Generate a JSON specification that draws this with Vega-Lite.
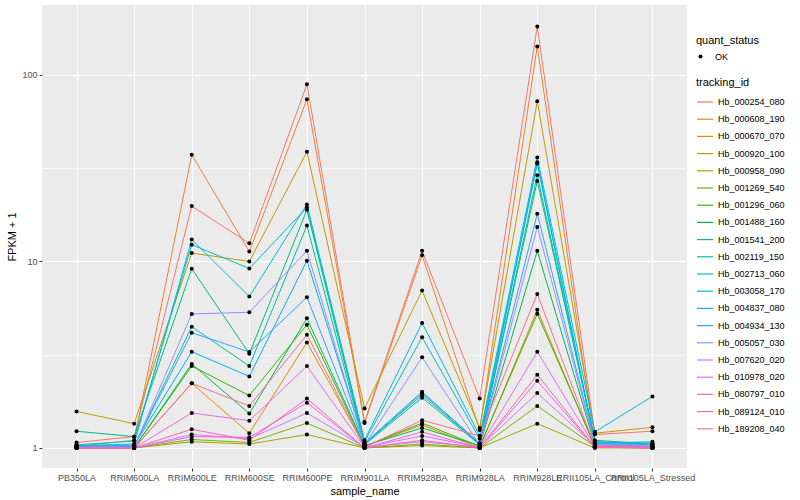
{
  "$schema": "https://vega.github.io/schema/vega-lite/v6.json",
  "width": 645,
  "height": 463,
  "padding": {"left": 6, "top": 5, "right": 5, "bottom": 5},
  "background": "white",
  "config": {
    "font": "Liberation Sans",
    "view": {"fill": "#EBEBEB", "stroke": null},
    "axis": {
      "domain": false,
      "gridColor": "#FFFFFF",
      "labelFont": "Liberation Sans",
      "labelFontSize": 9,
      "labelColor": "#4D4D4D",
      "tickColor": "#333333",
      "tickSize": 3,
      "labelPadding": 2,
      "titleFont": "Liberation Sans",
      "titleFontSize": 11,
      "titleFontWeight": "normal",
      "titleColor": "#000000"
    },
    "legend": {
      "titleFont": "Liberation Sans",
      "titleFontSize": 11,
      "titleFontWeight": "normal",
      "titleColor": "#000000",
      "labelFont": "Liberation Sans",
      "labelFontSize": 9,
      "labelColor": "#000000"
    }
  },
  "data": {"name": "fpkm"},
  "datasets": {
    "fpkm": [
      {"tracking_id": "Hb_000254_080", "sample_name": "PB350LA", "FPKM": 1.07, "quant_status": "OK"},
      {"tracking_id": "Hb_000254_080", "sample_name": "RRIM600LA", "FPKM": 1.15, "quant_status": "OK"},
      {"tracking_id": "Hb_000254_080", "sample_name": "RRIM600LE", "FPKM": 19.8, "quant_status": "OK"},
      {"tracking_id": "Hb_000254_080", "sample_name": "RRIM600SE", "FPKM": 12.5, "quant_status": "OK"},
      {"tracking_id": "Hb_000254_080", "sample_name": "RRIM600PE", "FPKM": 89, "quant_status": "OK"},
      {"tracking_id": "Hb_000254_080", "sample_name": "RRIM901LA", "FPKM": 1.38, "quant_status": "OK"},
      {"tracking_id": "Hb_000254_080", "sample_name": "RRIM928BA", "FPKM": 11.4, "quant_status": "OK"},
      {"tracking_id": "Hb_000254_080", "sample_name": "RRIM928LA", "FPKM": 1.84, "quant_status": "OK"},
      {"tracking_id": "Hb_000254_080", "sample_name": "RRIM928LE", "FPKM": 182, "quant_status": "OK"},
      {"tracking_id": "Hb_000254_080", "sample_name": "RRII105LA_Control", "FPKM": 1.18, "quant_status": "OK"},
      {"tracking_id": "Hb_000254_080", "sample_name": "RRII105LA_Stressed", "FPKM": 1.23, "quant_status": "OK"},

      {"tracking_id": "Hb_000608_190", "sample_name": "PB350LA", "FPKM": 1.02, "quant_status": "OK"},
      {"tracking_id": "Hb_000608_190", "sample_name": "RRIM600LA", "FPKM": 1.10, "quant_status": "OK"},
      {"tracking_id": "Hb_000608_190", "sample_name": "RRIM600LE", "FPKM": 37.3, "quant_status": "OK"},
      {"tracking_id": "Hb_000608_190", "sample_name": "RRIM600SE", "FPKM": 11.3, "quant_status": "OK"},
      {"tracking_id": "Hb_000608_190", "sample_name": "RRIM600PE", "FPKM": 74, "quant_status": "OK"},
      {"tracking_id": "Hb_000608_190", "sample_name": "RRIM901LA", "FPKM": 1.36, "quant_status": "OK"},
      {"tracking_id": "Hb_000608_190", "sample_name": "RRIM928BA", "FPKM": 10.8, "quant_status": "OK"},
      {"tracking_id": "Hb_000608_190", "sample_name": "RRIM928LA", "FPKM": 1.25, "quant_status": "OK"},
      {"tracking_id": "Hb_000608_190", "sample_name": "RRIM928LE", "FPKM": 142, "quant_status": "OK"},
      {"tracking_id": "Hb_000608_190", "sample_name": "RRII105LA_Control", "FPKM": 1.05, "quant_status": "OK"},
      {"tracking_id": "Hb_000608_190", "sample_name": "RRII105LA_Stressed", "FPKM": 1.03, "quant_status": "OK"},

      {"tracking_id": "Hb_000670_070", "sample_name": "PB350LA", "FPKM": 1.00, "quant_status": "OK"},
      {"tracking_id": "Hb_000670_070", "sample_name": "RRIM600LA", "FPKM": 1.00, "quant_status": "OK"},
      {"tracking_id": "Hb_000670_070", "sample_name": "RRIM600LE", "FPKM": 2.22, "quant_status": "OK"},
      {"tracking_id": "Hb_000670_070", "sample_name": "RRIM600SE", "FPKM": 1.20, "quant_status": "OK"},
      {"tracking_id": "Hb_000670_070", "sample_name": "RRIM600PE", "FPKM": 3.68, "quant_status": "OK"},
      {"tracking_id": "Hb_000670_070", "sample_name": "RRIM901LA", "FPKM": 1.02, "quant_status": "OK"},
      {"tracking_id": "Hb_000670_070", "sample_name": "RRIM928BA", "FPKM": 1.33, "quant_status": "OK"},
      {"tracking_id": "Hb_000670_070", "sample_name": "RRIM928LA", "FPKM": 1.00, "quant_status": "OK"},
      {"tracking_id": "Hb_000670_070", "sample_name": "RRIM928LE", "FPKM": 5.50, "quant_status": "OK"},
      {"tracking_id": "Hb_000670_070", "sample_name": "RRII105LA_Control", "FPKM": 1.01, "quant_status": "OK"},
      {"tracking_id": "Hb_000670_070", "sample_name": "RRII105LA_Stressed", "FPKM": 1.00, "quant_status": "OK"},

      {"tracking_id": "Hb_000920_100", "sample_name": "PB350LA", "FPKM": 1.57, "quant_status": "OK"},
      {"tracking_id": "Hb_000920_100", "sample_name": "RRIM600LA", "FPKM": 1.35, "quant_status": "OK"},
      {"tracking_id": "Hb_000920_100", "sample_name": "RRIM600LE", "FPKM": 11.1, "quant_status": "OK"},
      {"tracking_id": "Hb_000920_100", "sample_name": "RRIM600SE", "FPKM": 10.0, "quant_status": "OK"},
      {"tracking_id": "Hb_000920_100", "sample_name": "RRIM600PE", "FPKM": 38.7, "quant_status": "OK"},
      {"tracking_id": "Hb_000920_100", "sample_name": "RRIM901LA", "FPKM": 1.63, "quant_status": "OK"},
      {"tracking_id": "Hb_000920_100", "sample_name": "RRIM928BA", "FPKM": 6.98, "quant_status": "OK"},
      {"tracking_id": "Hb_000920_100", "sample_name": "RRIM928LA", "FPKM": 1.28, "quant_status": "OK"},
      {"tracking_id": "Hb_000920_100", "sample_name": "RRIM928LE", "FPKM": 72.2, "quant_status": "OK"},
      {"tracking_id": "Hb_000920_100", "sample_name": "RRII105LA_Control", "FPKM": 1.20, "quant_status": "OK"},
      {"tracking_id": "Hb_000920_100", "sample_name": "RRII105LA_Stressed", "FPKM": 1.29, "quant_status": "OK"},

      {"tracking_id": "Hb_000958_090", "sample_name": "PB350LA", "FPKM": 1.00, "quant_status": "OK"},
      {"tracking_id": "Hb_000958_090", "sample_name": "RRIM600LA", "FPKM": 1.00, "quant_status": "OK"},
      {"tracking_id": "Hb_000958_090", "sample_name": "RRIM600LE", "FPKM": 1.08, "quant_status": "OK"},
      {"tracking_id": "Hb_000958_090", "sample_name": "RRIM600SE", "FPKM": 1.05, "quant_status": "OK"},
      {"tracking_id": "Hb_000958_090", "sample_name": "RRIM600PE", "FPKM": 1.18, "quant_status": "OK"},
      {"tracking_id": "Hb_000958_090", "sample_name": "RRIM901LA", "FPKM": 1.00, "quant_status": "OK"},
      {"tracking_id": "Hb_000958_090", "sample_name": "RRIM928BA", "FPKM": 1.03, "quant_status": "OK"},
      {"tracking_id": "Hb_000958_090", "sample_name": "RRIM928LA", "FPKM": 1.00, "quant_status": "OK"},
      {"tracking_id": "Hb_000958_090", "sample_name": "RRIM928LE", "FPKM": 1.35, "quant_status": "OK"},
      {"tracking_id": "Hb_000958_090", "sample_name": "RRII105LA_Control", "FPKM": 1.00, "quant_status": "OK"},
      {"tracking_id": "Hb_000958_090", "sample_name": "RRII105LA_Stressed", "FPKM": 1.00, "quant_status": "OK"},

      {"tracking_id": "Hb_001269_540", "sample_name": "PB350LA", "FPKM": 1.00, "quant_status": "OK"},
      {"tracking_id": "Hb_001269_540", "sample_name": "RRIM600LA", "FPKM": 1.00, "quant_status": "OK"},
      {"tracking_id": "Hb_001269_540", "sample_name": "RRIM600LE", "FPKM": 1.11, "quant_status": "OK"},
      {"tracking_id": "Hb_001269_540", "sample_name": "RRIM600SE", "FPKM": 1.07, "quant_status": "OK"},
      {"tracking_id": "Hb_001269_540", "sample_name": "RRIM600PE", "FPKM": 1.36, "quant_status": "OK"},
      {"tracking_id": "Hb_001269_540", "sample_name": "RRIM901LA", "FPKM": 1.00, "quant_status": "OK"},
      {"tracking_id": "Hb_001269_540", "sample_name": "RRIM928BA", "FPKM": 1.05, "quant_status": "OK"},
      {"tracking_id": "Hb_001269_540", "sample_name": "RRIM928LA", "FPKM": 1.00, "quant_status": "OK"},
      {"tracking_id": "Hb_001269_540", "sample_name": "RRIM928LE", "FPKM": 1.68, "quant_status": "OK"},
      {"tracking_id": "Hb_001269_540", "sample_name": "RRII105LA_Control", "FPKM": 1.02, "quant_status": "OK"},
      {"tracking_id": "Hb_001269_540", "sample_name": "RRII105LA_Stressed", "FPKM": 1.00, "quant_status": "OK"},

      {"tracking_id": "Hb_001296_060", "sample_name": "PB350LA", "FPKM": 1.01, "quant_status": "OK"},
      {"tracking_id": "Hb_001296_060", "sample_name": "RRIM600LA", "FPKM": 1.00, "quant_status": "OK"},
      {"tracking_id": "Hb_001296_060", "sample_name": "RRIM600LE", "FPKM": 2.75, "quant_status": "OK"},
      {"tracking_id": "Hb_001296_060", "sample_name": "RRIM600SE", "FPKM": 1.91, "quant_status": "OK"},
      {"tracking_id": "Hb_001296_060", "sample_name": "RRIM600PE", "FPKM": 4.58, "quant_status": "OK"},
      {"tracking_id": "Hb_001296_060", "sample_name": "RRIM901LA", "FPKM": 1.02, "quant_status": "OK"},
      {"tracking_id": "Hb_001296_060", "sample_name": "RRIM928BA", "FPKM": 1.36, "quant_status": "OK"},
      {"tracking_id": "Hb_001296_060", "sample_name": "RRIM928LA", "FPKM": 1.02, "quant_status": "OK"},
      {"tracking_id": "Hb_001296_060", "sample_name": "RRIM928LE", "FPKM": 5.24, "quant_status": "OK"},
      {"tracking_id": "Hb_001296_060", "sample_name": "RRII105LA_Control", "FPKM": 1.03, "quant_status": "OK"},
      {"tracking_id": "Hb_001296_060", "sample_name": "RRII105LA_Stressed", "FPKM": 1.01, "quant_status": "OK"},

      {"tracking_id": "Hb_001488_160", "sample_name": "PB350LA", "FPKM": 1.01, "quant_status": "OK"},
      {"tracking_id": "Hb_001488_160", "sample_name": "RRIM600LA", "FPKM": 1.00, "quant_status": "OK"},
      {"tracking_id": "Hb_001488_160", "sample_name": "RRIM600LE", "FPKM": 2.82, "quant_status": "OK"},
      {"tracking_id": "Hb_001488_160", "sample_name": "RRIM600SE", "FPKM": 1.53, "quant_status": "OK"},
      {"tracking_id": "Hb_001488_160", "sample_name": "RRIM600PE", "FPKM": 4.96, "quant_status": "OK"},
      {"tracking_id": "Hb_001488_160", "sample_name": "RRIM901LA", "FPKM": 1.03, "quant_status": "OK"},
      {"tracking_id": "Hb_001488_160", "sample_name": "RRIM928BA", "FPKM": 1.28, "quant_status": "OK"},
      {"tracking_id": "Hb_001488_160", "sample_name": "RRIM928LA", "FPKM": 1.03, "quant_status": "OK"},
      {"tracking_id": "Hb_001488_160", "sample_name": "RRIM928LE", "FPKM": 11.4, "quant_status": "OK"},
      {"tracking_id": "Hb_001488_160", "sample_name": "RRII105LA_Control", "FPKM": 1.04, "quant_status": "OK"},
      {"tracking_id": "Hb_001488_160", "sample_name": "RRII105LA_Stressed", "FPKM": 1.02, "quant_status": "OK"},

      {"tracking_id": "Hb_001541_200", "sample_name": "PB350LA", "FPKM": 1.23, "quant_status": "OK"},
      {"tracking_id": "Hb_001541_200", "sample_name": "RRIM600LA", "FPKM": 1.15, "quant_status": "OK"},
      {"tracking_id": "Hb_001541_200", "sample_name": "RRIM600LE", "FPKM": 9.14, "quant_status": "OK"},
      {"tracking_id": "Hb_001541_200", "sample_name": "RRIM600SE", "FPKM": 3.20, "quant_status": "OK"},
      {"tracking_id": "Hb_001541_200", "sample_name": "RRIM600PE", "FPKM": 18.9, "quant_status": "OK"},
      {"tracking_id": "Hb_001541_200", "sample_name": "RRIM901LA", "FPKM": 1.05, "quant_status": "OK"},
      {"tracking_id": "Hb_001541_200", "sample_name": "RRIM928BA", "FPKM": 1.92, "quant_status": "OK"},
      {"tracking_id": "Hb_001541_200", "sample_name": "RRIM928LA", "FPKM": 1.05, "quant_status": "OK"},
      {"tracking_id": "Hb_001541_200", "sample_name": "RRIM928LE", "FPKM": 27.0, "quant_status": "OK"},
      {"tracking_id": "Hb_001541_200", "sample_name": "RRII105LA_Control", "FPKM": 1.10, "quant_status": "OK"},
      {"tracking_id": "Hb_001541_200", "sample_name": "RRII105LA_Stressed", "FPKM": 1.05, "quant_status": "OK"},

      {"tracking_id": "Hb_002119_150", "sample_name": "PB350LA", "FPKM": 1.03, "quant_status": "OK"},
      {"tracking_id": "Hb_002119_150", "sample_name": "RRIM600LA", "FPKM": 1.02, "quant_status": "OK"},
      {"tracking_id": "Hb_002119_150", "sample_name": "RRIM600LE", "FPKM": 4.47, "quant_status": "OK"},
      {"tracking_id": "Hb_002119_150", "sample_name": "RRIM600SE", "FPKM": 2.75, "quant_status": "OK"},
      {"tracking_id": "Hb_002119_150", "sample_name": "RRIM600PE", "FPKM": 15.6, "quant_status": "OK"},
      {"tracking_id": "Hb_002119_150", "sample_name": "RRIM901LA", "FPKM": 1.04, "quant_status": "OK"},
      {"tracking_id": "Hb_002119_150", "sample_name": "RRIM928BA", "FPKM": 1.86, "quant_status": "OK"},
      {"tracking_id": "Hb_002119_150", "sample_name": "RRIM928LA", "FPKM": 1.04, "quant_status": "OK"},
      {"tracking_id": "Hb_002119_150", "sample_name": "RRIM928LE", "FPKM": 29.0, "quant_status": "OK"},
      {"tracking_id": "Hb_002119_150", "sample_name": "RRII105LA_Control", "FPKM": 1.08, "quant_status": "OK"},
      {"tracking_id": "Hb_002119_150", "sample_name": "RRII105LA_Stressed", "FPKM": 1.06, "quant_status": "OK"},

      {"tracking_id": "Hb_002713_060", "sample_name": "PB350LA", "FPKM": 1.04, "quant_status": "OK"},
      {"tracking_id": "Hb_002713_060", "sample_name": "RRIM600LA", "FPKM": 1.09, "quant_status": "OK"},
      {"tracking_id": "Hb_002713_060", "sample_name": "RRIM600LE", "FPKM": 12.3, "quant_status": "OK"},
      {"tracking_id": "Hb_002713_060", "sample_name": "RRIM600SE", "FPKM": 9.17, "quant_status": "OK"},
      {"tracking_id": "Hb_002713_060", "sample_name": "RRIM600PE", "FPKM": 19.5, "quant_status": "OK"},
      {"tracking_id": "Hb_002713_060", "sample_name": "RRIM901LA", "FPKM": 1.08, "quant_status": "OK"},
      {"tracking_id": "Hb_002713_060", "sample_name": "RRIM928BA", "FPKM": 3.92, "quant_status": "OK"},
      {"tracking_id": "Hb_002713_060", "sample_name": "RRIM928LA", "FPKM": 1.12, "quant_status": "OK"},
      {"tracking_id": "Hb_002713_060", "sample_name": "RRIM928LE", "FPKM": 33.5, "quant_status": "OK"},
      {"tracking_id": "Hb_002713_060", "sample_name": "RRII105LA_Control", "FPKM": 1.06, "quant_status": "OK"},
      {"tracking_id": "Hb_002713_060", "sample_name": "RRII105LA_Stressed", "FPKM": 1.08, "quant_status": "OK"},

      {"tracking_id": "Hb_003058_170", "sample_name": "PB350LA", "FPKM": 1.03, "quant_status": "OK"},
      {"tracking_id": "Hb_003058_170", "sample_name": "RRIM600LA", "FPKM": 1.05, "quant_status": "OK"},
      {"tracking_id": "Hb_003058_170", "sample_name": "RRIM600LE", "FPKM": 13.1, "quant_status": "OK"},
      {"tracking_id": "Hb_003058_170", "sample_name": "RRIM600SE", "FPKM": 6.48, "quant_status": "OK"},
      {"tracking_id": "Hb_003058_170", "sample_name": "RRIM600PE", "FPKM": 20.2, "quant_status": "OK"},
      {"tracking_id": "Hb_003058_170", "sample_name": "RRIM901LA", "FPKM": 1.10, "quant_status": "OK"},
      {"tracking_id": "Hb_003058_170", "sample_name": "RRIM928BA", "FPKM": 4.68, "quant_status": "OK"},
      {"tracking_id": "Hb_003058_170", "sample_name": "RRIM928LA", "FPKM": 1.16, "quant_status": "OK"},
      {"tracking_id": "Hb_003058_170", "sample_name": "RRIM928LE", "FPKM": 36.1, "quant_status": "OK"},
      {"tracking_id": "Hb_003058_170", "sample_name": "RRII105LA_Control", "FPKM": 1.22, "quant_status": "OK"},
      {"tracking_id": "Hb_003058_170", "sample_name": "RRII105LA_Stressed", "FPKM": 1.89, "quant_status": "OK"},

      {"tracking_id": "Hb_004837_080", "sample_name": "PB350LA", "FPKM": 1.02, "quant_status": "OK"},
      {"tracking_id": "Hb_004837_080", "sample_name": "RRIM600LA", "FPKM": 1.03, "quant_status": "OK"},
      {"tracking_id": "Hb_004837_080", "sample_name": "RRIM600LE", "FPKM": 3.28, "quant_status": "OK"},
      {"tracking_id": "Hb_004837_080", "sample_name": "RRIM600SE", "FPKM": 2.42, "quant_status": "OK"},
      {"tracking_id": "Hb_004837_080", "sample_name": "RRIM600PE", "FPKM": 10.1, "quant_status": "OK"},
      {"tracking_id": "Hb_004837_080", "sample_name": "RRIM901LA", "FPKM": 1.06, "quant_status": "OK"},
      {"tracking_id": "Hb_004837_080", "sample_name": "RRIM928BA", "FPKM": 2.00, "quant_status": "OK"},
      {"tracking_id": "Hb_004837_080", "sample_name": "RRIM928LA", "FPKM": 1.06, "quant_status": "OK"},
      {"tracking_id": "Hb_004837_080", "sample_name": "RRIM928LE", "FPKM": 34.0, "quant_status": "OK"},
      {"tracking_id": "Hb_004837_080", "sample_name": "RRII105LA_Control", "FPKM": 1.07, "quant_status": "OK"},
      {"tracking_id": "Hb_004837_080", "sample_name": "RRII105LA_Stressed", "FPKM": 1.05, "quant_status": "OK"},

      {"tracking_id": "Hb_004934_130", "sample_name": "PB350LA", "FPKM": 1.02, "quant_status": "OK"},
      {"tracking_id": "Hb_004934_130", "sample_name": "RRIM600LA", "FPKM": 1.02, "quant_status": "OK"},
      {"tracking_id": "Hb_004934_130", "sample_name": "RRIM600LE", "FPKM": 4.15, "quant_status": "OK"},
      {"tracking_id": "Hb_004934_130", "sample_name": "RRIM600SE", "FPKM": 3.27, "quant_status": "OK"},
      {"tracking_id": "Hb_004934_130", "sample_name": "RRIM600PE", "FPKM": 6.43, "quant_status": "OK"},
      {"tracking_id": "Hb_004934_130", "sample_name": "RRIM901LA", "FPKM": 1.05, "quant_status": "OK"},
      {"tracking_id": "Hb_004934_130", "sample_name": "RRIM928BA", "FPKM": 1.97, "quant_status": "OK"},
      {"tracking_id": "Hb_004934_130", "sample_name": "RRIM928LA", "FPKM": 1.05, "quant_status": "OK"},
      {"tracking_id": "Hb_004934_130", "sample_name": "RRIM928LE", "FPKM": 18.0, "quant_status": "OK"},
      {"tracking_id": "Hb_004934_130", "sample_name": "RRII105LA_Control", "FPKM": 1.06, "quant_status": "OK"},
      {"tracking_id": "Hb_004934_130", "sample_name": "RRII105LA_Stressed", "FPKM": 1.04, "quant_status": "OK"},

      {"tracking_id": "Hb_005057_030", "sample_name": "PB350LA", "FPKM": 1.01, "quant_status": "OK"},
      {"tracking_id": "Hb_005057_030", "sample_name": "RRIM600LA", "FPKM": 1.01, "quant_status": "OK"},
      {"tracking_id": "Hb_005057_030", "sample_name": "RRIM600LE", "FPKM": 5.23, "quant_status": "OK"},
      {"tracking_id": "Hb_005057_030", "sample_name": "RRIM600SE", "FPKM": 5.34, "quant_status": "OK"},
      {"tracking_id": "Hb_005057_030", "sample_name": "RRIM600PE", "FPKM": 11.4, "quant_status": "OK"},
      {"tracking_id": "Hb_005057_030", "sample_name": "RRIM901LA", "FPKM": 1.04, "quant_status": "OK"},
      {"tracking_id": "Hb_005057_030", "sample_name": "RRIM928BA", "FPKM": 3.06, "quant_status": "OK"},
      {"tracking_id": "Hb_005057_030", "sample_name": "RRIM928LA", "FPKM": 1.04, "quant_status": "OK"},
      {"tracking_id": "Hb_005057_030", "sample_name": "RRIM928LE", "FPKM": 15.3, "quant_status": "OK"},
      {"tracking_id": "Hb_005057_030", "sample_name": "RRII105LA_Control", "FPKM": 1.05, "quant_status": "OK"},
      {"tracking_id": "Hb_005057_030", "sample_name": "RRII105LA_Stressed", "FPKM": 1.03, "quant_status": "OK"},

      {"tracking_id": "Hb_007620_020", "sample_name": "PB350LA", "FPKM": 1.00, "quant_status": "OK"},
      {"tracking_id": "Hb_007620_020", "sample_name": "RRIM600LA", "FPKM": 1.00, "quant_status": "OK"},
      {"tracking_id": "Hb_007620_020", "sample_name": "RRIM600LE", "FPKM": 1.18, "quant_status": "OK"},
      {"tracking_id": "Hb_007620_020", "sample_name": "RRIM600SE", "FPKM": 1.12, "quant_status": "OK"},
      {"tracking_id": "Hb_007620_020", "sample_name": "RRIM600PE", "FPKM": 1.54, "quant_status": "OK"},
      {"tracking_id": "Hb_007620_020", "sample_name": "RRIM901LA", "FPKM": 1.01, "quant_status": "OK"},
      {"tracking_id": "Hb_007620_020", "sample_name": "RRIM928BA", "FPKM": 1.08, "quant_status": "OK"},
      {"tracking_id": "Hb_007620_020", "sample_name": "RRIM928LA", "FPKM": 1.01, "quant_status": "OK"},
      {"tracking_id": "Hb_007620_020", "sample_name": "RRIM928LE", "FPKM": 1.97, "quant_status": "OK"},
      {"tracking_id": "Hb_007620_020", "sample_name": "RRII105LA_Control", "FPKM": 1.03, "quant_status": "OK"},
      {"tracking_id": "Hb_007620_020", "sample_name": "RRII105LA_Stressed", "FPKM": 1.02, "quant_status": "OK"},

      {"tracking_id": "Hb_010978_020", "sample_name": "PB350LA", "FPKM": 1.00, "quant_status": "OK"},
      {"tracking_id": "Hb_010978_020", "sample_name": "RRIM600LA", "FPKM": 1.00, "quant_status": "OK"},
      {"tracking_id": "Hb_010978_020", "sample_name": "RRIM600LE", "FPKM": 1.54, "quant_status": "OK"},
      {"tracking_id": "Hb_010978_020", "sample_name": "RRIM600SE", "FPKM": 1.40, "quant_status": "OK"},
      {"tracking_id": "Hb_010978_020", "sample_name": "RRIM600PE", "FPKM": 2.75, "quant_status": "OK"},
      {"tracking_id": "Hb_010978_020", "sample_name": "RRIM901LA", "FPKM": 1.01, "quant_status": "OK"},
      {"tracking_id": "Hb_010978_020", "sample_name": "RRIM928BA", "FPKM": 1.16, "quant_status": "OK"},
      {"tracking_id": "Hb_010978_020", "sample_name": "RRIM928LA", "FPKM": 1.01, "quant_status": "OK"},
      {"tracking_id": "Hb_010978_020", "sample_name": "RRIM928LE", "FPKM": 3.28, "quant_status": "OK"},
      {"tracking_id": "Hb_010978_020", "sample_name": "RRII105LA_Control", "FPKM": 1.02, "quant_status": "OK"},
      {"tracking_id": "Hb_010978_020", "sample_name": "RRII105LA_Stressed", "FPKM": 1.01, "quant_status": "OK"},

      {"tracking_id": "Hb_080797_010", "sample_name": "PB350LA", "FPKM": 1.00, "quant_status": "OK"},
      {"tracking_id": "Hb_080797_010", "sample_name": "RRIM600LA", "FPKM": 1.00, "quant_status": "OK"},
      {"tracking_id": "Hb_080797_010", "sample_name": "RRIM600LE", "FPKM": 1.15, "quant_status": "OK"},
      {"tracking_id": "Hb_080797_010", "sample_name": "RRIM600SE", "FPKM": 1.14, "quant_status": "OK"},
      {"tracking_id": "Hb_080797_010", "sample_name": "RRIM600PE", "FPKM": 1.75, "quant_status": "OK"},
      {"tracking_id": "Hb_080797_010", "sample_name": "RRIM901LA", "FPKM": 1.00, "quant_status": "OK"},
      {"tracking_id": "Hb_080797_010", "sample_name": "RRIM928BA", "FPKM": 1.22, "quant_status": "OK"},
      {"tracking_id": "Hb_080797_010", "sample_name": "RRIM928LA", "FPKM": 1.00, "quant_status": "OK"},
      {"tracking_id": "Hb_080797_010", "sample_name": "RRIM928LE", "FPKM": 2.29, "quant_status": "OK"},
      {"tracking_id": "Hb_080797_010", "sample_name": "RRII105LA_Control", "FPKM": 1.01, "quant_status": "OK"},
      {"tracking_id": "Hb_080797_010", "sample_name": "RRII105LA_Stressed", "FPKM": 1.00, "quant_status": "OK"},

      {"tracking_id": "Hb_089124_010", "sample_name": "PB350LA", "FPKM": 1.00, "quant_status": "OK"},
      {"tracking_id": "Hb_089124_010", "sample_name": "RRIM600LA", "FPKM": 1.00, "quant_status": "OK"},
      {"tracking_id": "Hb_089124_010", "sample_name": "RRIM600LE", "FPKM": 1.26, "quant_status": "OK"},
      {"tracking_id": "Hb_089124_010", "sample_name": "RRIM600SE", "FPKM": 1.10, "quant_status": "OK"},
      {"tracking_id": "Hb_089124_010", "sample_name": "RRIM600PE", "FPKM": 1.84, "quant_status": "OK"},
      {"tracking_id": "Hb_089124_010", "sample_name": "RRIM901LA", "FPKM": 1.00, "quant_status": "OK"},
      {"tracking_id": "Hb_089124_010", "sample_name": "RRIM928BA", "FPKM": 1.10, "quant_status": "OK"},
      {"tracking_id": "Hb_089124_010", "sample_name": "RRIM928LA", "FPKM": 1.00, "quant_status": "OK"},
      {"tracking_id": "Hb_089124_010", "sample_name": "RRIM928LE", "FPKM": 2.47, "quant_status": "OK"},
      {"tracking_id": "Hb_089124_010", "sample_name": "RRII105LA_Control", "FPKM": 1.01, "quant_status": "OK"},
      {"tracking_id": "Hb_089124_010", "sample_name": "RRII105LA_Stressed", "FPKM": 1.00, "quant_status": "OK"},

      {"tracking_id": "Hb_189208_040", "sample_name": "PB350LA", "FPKM": 1.00, "quant_status": "OK"},
      {"tracking_id": "Hb_189208_040", "sample_name": "RRIM600LA", "FPKM": 1.00, "quant_status": "OK"},
      {"tracking_id": "Hb_189208_040", "sample_name": "RRIM600LE", "FPKM": 2.22, "quant_status": "OK"},
      {"tracking_id": "Hb_189208_040", "sample_name": "RRIM600SE", "FPKM": 1.68, "quant_status": "OK"},
      {"tracking_id": "Hb_189208_040", "sample_name": "RRIM600PE", "FPKM": 4.05, "quant_status": "OK"},
      {"tracking_id": "Hb_189208_040", "sample_name": "RRIM901LA", "FPKM": 1.01, "quant_status": "OK"},
      {"tracking_id": "Hb_189208_040", "sample_name": "RRIM928BA", "FPKM": 1.41, "quant_status": "OK"},
      {"tracking_id": "Hb_189208_040", "sample_name": "RRIM928LA", "FPKM": 1.16, "quant_status": "OK"},
      {"tracking_id": "Hb_189208_040", "sample_name": "RRIM928LE", "FPKM": 6.70, "quant_status": "OK"},
      {"tracking_id": "Hb_189208_040", "sample_name": "RRII105LA_Control", "FPKM": 1.02, "quant_status": "OK"},
      {"tracking_id": "Hb_189208_040", "sample_name": "RRII105LA_Stressed", "FPKM": 1.00, "quant_status": "OK"}
    ]
  },
  "encoding": {
    "x": {
      "field": "sample_name",
      "type": "nominal",
      "sort": ["PB350LA", "RRIM600LA", "RRIM600LE", "RRIM600SE", "RRIM600PE", "RRIM901LA", "RRIM928BA", "RRIM928LA", "RRIM928LE", "RRII105LA_Control", "RRII105LA_Stressed"],
      "scale": {"type": "point", "padding": 0.6},
      "axis": {"labelAngle": 0, "grid": true, "gridWidth": 1.1, "titlePadding": 3, "labelOverlap": false}
    },
    "y": {
      "field": "FPKM",
      "type": "quantitative",
      "title": "FPKM + 1",
      "scale": {"type": "log", "domain": [0.781, 237], "nice": false},
      "axis": {
        "values": [1, 3.1623, 10, 31.623, 100],
        "labelExpr": "(datum.value == 1 || datum.value == 10 || datum.value == 100) ? format(datum.value, 'd') : ''",
        "gridWidth": {"condition": {"test": "datum.value == 1 || datum.value == 10 || datum.value == 100", "value": 1.1}, "value": 0.55},
        "tickOpacity": {"condition": {"test": "datum.value == 1 || datum.value == 10 || datum.value == 100", "value": 1}, "value": 0},
        "titlePadding": 4
      }
    }
  },
  "layer": [
    {
      "mark": {"type": "line", "strokeWidth": 1},
      "encoding": {
        "stroke": {
          "field": "tracking_id",
          "type": "nominal",
          "scale": {
            "domain": ["Hb_000254_080", "Hb_000608_190", "Hb_000670_070", "Hb_000920_100", "Hb_000958_090", "Hb_001269_540", "Hb_001296_060", "Hb_001488_160", "Hb_001541_200", "Hb_002119_150", "Hb_002713_060", "Hb_003058_170", "Hb_004837_080", "Hb_004934_130", "Hb_005057_030", "Hb_007620_020", "Hb_010978_020", "Hb_080797_010", "Hb_089124_010", "Hb_189208_040"],
            "range": ["#F8766D", "#EA8331", "#D89000", "#C09B00", "#A3A500", "#7CAE00", "#39B600", "#00BB4E", "#00BF7D", "#00C1A3", "#00BFC4", "#00BAE0", "#00B0F6", "#35A2FF", "#9590FF", "#C77CFF", "#E76BF3", "#FA62DB", "#FF62BC", "#FF6C91"]
          },
          "legend": {
            "orient": "none",
            "legendX": 654,
            "legendY": 72,
            "symbolType": "stroke",
            "symbolSize": 256,
            "symbolStrokeWidth": 1.2,
            "rowPadding": 3.2,
            "labelOffset": 4,
            "titlePadding": 5
          }
        },
        "detail": {"field": "tracking_id"}
      }
    },
    {
      "mark": {"type": "point", "filled": true, "shape": "circle", "size": 16, "opacity": 1},
      "encoding": {
        "fill": {
          "field": "quant_status",
          "type": "nominal",
          "scale": {"range": ["#000000"]},
          "legend": {
            "orient": "none",
            "legendX": 654,
            "legendY": 30,
            "symbolType": "circle",
            "symbolSize": 16,
            "symbolStrokeWidth": 0,
            "labelOffset": 10,
            "titlePadding": 6
          }
        }
      }
    }
  ]
}
